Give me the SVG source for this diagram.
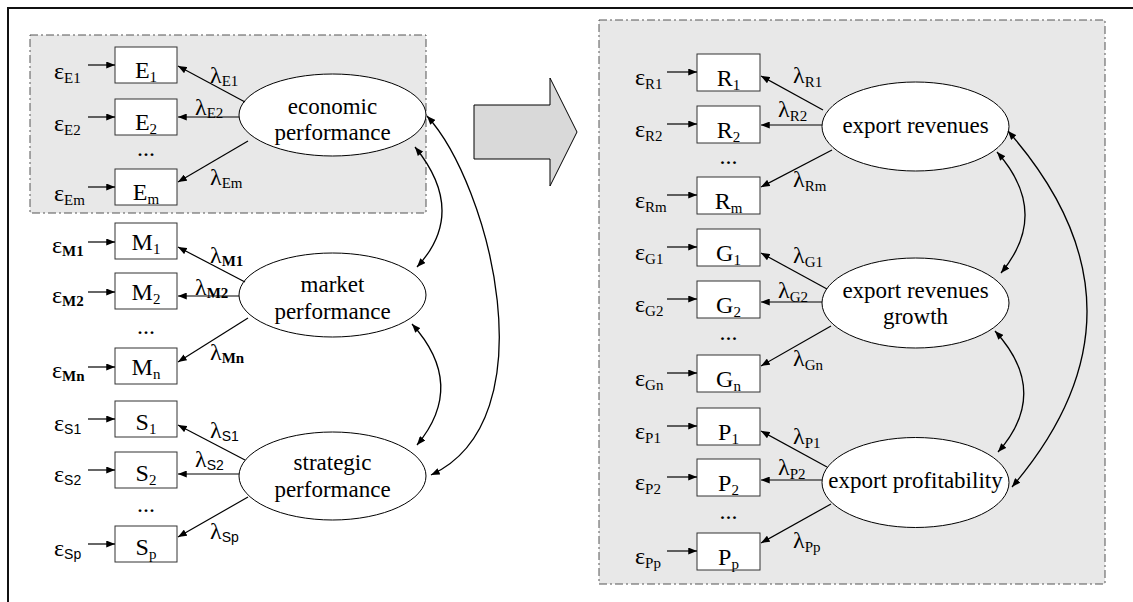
<svg xmlns="http://www.w3.org/2000/svg" width="1133" height="602" viewBox="0 0 1133 602" font-family="'Liberation Serif', 'Times New Roman', serif">
<defs>
<marker id="ah" viewBox="0 0 10 8" refX="10" refY="4" markerWidth="9" markerHeight="7" markerUnits="userSpaceOnUse" orient="auto-start-reverse">
<path d="M0,0 L10,4 L0,8 z" fill="#000"/>
</marker>
<style>
text{font-family:'Liberation Serif','Times New Roman',serif}
.t{font-size:24px;fill:#000}
.s{font-size:15px}
.sb{font-size:15px;font-weight:bold}
.ss{font-family:'Liberation Sans',Arial,sans-serif;font-size:14px}
.el{font-size:23px;fill:#000;text-anchor:middle}
.box{fill:#fff;stroke:#333;stroke-width:1}
.ell{fill:#fff;stroke:#000;stroke-width:1}
.ln{stroke:#000;stroke-width:1.2;fill:none;marker-end:url(#ah)}
.cv{stroke:#000;stroke-width:1.3;fill:none;marker-start:url(#ah);marker-end:url(#ah)}
.panel{fill:#e8e8e8;stroke:#555;stroke-width:1;stroke-dasharray:8 3 2 3}
.lab{text-anchor:middle}
</style>
</defs>
<rect width="1133" height="602" fill="#fff"/>
<path d="M8,602 L8,8 L1133,8" fill="none" stroke="#111" stroke-width="2"/>
<rect class="panel" x="30" y="35" width="396" height="178"/>
<rect class="panel" x="599" y="20" width="506" height="564"/>
<polygon points="474,105 550,105 550,78 577,132 550,186 550,159 474,159" fill="#d9d9d9" stroke="#000" stroke-width="1"/>

<g id="economic">
<rect class="box" x="115" y="47" width="62" height="36"/>
<rect class="box" x="115" y="99" width="62" height="36"/>
<rect class="box" x="115" y="169" width="62" height="36"/>
<text class="t lab" x="146" y="78">E<tspan class="s" dy="4">1</tspan></text>
<text class="t lab" x="146" y="130">E<tspan class="s" dy="4">2</tspan></text>
<text class="t lab" x="146" y="200">E<tspan class="s" dy="4">m</tspan></text>
<text class="t lab" x="146" y="156">...</text>
<text class="t" x="54" y="79">ε<tspan class="s" dy="4">E1</tspan></text>
<text class="t" x="54" y="131">ε<tspan class="s" dy="4">E2</tspan></text>
<text class="t" x="54" y="201">ε<tspan class="s" dy="4">Em</tspan></text>
<text class="t" x="210" y="83">λ<tspan class="s" dy="3">E1</tspan></text>
<text class="t" x="195" y="115">λ<tspan class="s" dy="3">E2</tspan></text>
<text class="t" x="210" y="185">λ<tspan class="s" dy="3">Em</tspan></text>
<ellipse class="ell" cx="332.5" cy="115" rx="93.5" ry="41"/>
<text class="el" x="332.5" y="114">economic</text>
<text class="el" x="332.5" y="140">performance</text>
</g>

<g id="market">
<rect class="box" x="115" y="223" width="62" height="36"/>
<rect class="box" x="115" y="273" width="62" height="36"/>
<rect class="box" x="115" y="348" width="62" height="36"/>
<text class="t lab" x="146" y="250">M<tspan class="s" dy="4">1</tspan></text>
<text class="t lab" x="146" y="300">M<tspan class="s" dy="4">2</tspan></text>
<text class="t lab" x="146" y="375">M<tspan class="s" dy="4">n</tspan></text>
<text class="t lab" x="146" y="334">...</text>
<text class="t" x="52" y="253">ε<tspan class="sb" dy="3">M1</tspan></text>
<text class="t" x="52" y="303">ε<tspan class="sb" dy="3">M2</tspan></text>
<text class="t" x="52" y="378">ε<tspan class="sb" dy="3">Mn</tspan></text>
<text class="t" x="210" y="263">λ<tspan class="sb" dy="3">M1</tspan></text>
<text class="t" x="195" y="295">λ<tspan class="sb" dy="3">M2</tspan></text>
<text class="t" x="210" y="360">λ<tspan class="sb" dy="3">Mn</tspan></text>
<ellipse class="ell" cx="332.5" cy="295" rx="93.5" ry="42"/>
<text class="el" x="332.5" y="292">market</text>
<text class="el" x="332.5" y="319">performance</text>
</g>

<g id="strategic">
<rect class="box" x="115" y="401" width="62" height="36"/>
<rect class="box" x="115" y="452" width="62" height="36"/>
<rect class="box" x="115" y="526" width="62" height="36"/>
<text class="t lab" x="146" y="430">S<tspan class="s" dy="4">1</tspan></text>
<text class="t lab" x="146" y="481">S<tspan class="s" dy="4">2</tspan></text>
<text class="t lab" x="146" y="555">S<tspan class="s" dy="4">p</tspan></text>
<text class="t lab" x="146" y="512">...</text>
<text class="t" x="54" y="431">ε<tspan class="ss" dy="3">S1</tspan></text>
<text class="t" x="54" y="482">ε<tspan class="ss" dy="3">S2</tspan></text>
<text class="t" x="54" y="556">ε<tspan class="ss" dy="3">Sp</tspan></text>
<text class="t" x="210" y="438">λ<tspan class="ss" dy="3">S1</tspan></text>
<text class="t" x="195" y="467">λ<tspan class="ss" dy="3">S2</tspan></text>
<text class="t" x="210" y="539">λ<tspan class="ss" dy="3">Sp</tspan></text>
<ellipse class="ell" cx="332.5" cy="476" rx="93.5" ry="44"/>
<text class="el" x="332.5" y="470">strategic</text>
<text class="el" x="332.5" y="497">performance</text>
</g>

<g id="revenues">
<rect class="box" x="697" y="54" width="63" height="37"/>
<rect class="box" x="697" y="106" width="63" height="37"/>
<rect class="box" x="697" y="177" width="63" height="37"/>
<text class="t lab" x="728.5" y="86">R<tspan class="s" dy="4">1</tspan></text>
<text class="t lab" x="728.5" y="138">R<tspan class="s" dy="4">2</tspan></text>
<text class="t lab" x="728.5" y="209">R<tspan class="s" dy="4">m</tspan></text>
<text class="t lab" x="728.5" y="164">...</text>
<text class="t" x="635" y="85">ε<tspan class="s" dy="4">R1</tspan></text>
<text class="t" x="635" y="137">ε<tspan class="s" dy="4">R2</tspan></text>
<text class="t" x="635" y="208">ε<tspan class="s" dy="4">Rm</tspan></text>
<text class="t" x="793" y="83">λ<tspan class="s" dy="4">R1</tspan></text>
<text class="t" x="778" y="117">λ<tspan class="s" dy="4">R2</tspan></text>
<text class="t" x="793" y="187">λ<tspan class="s" dy="4">Rm</tspan></text>
<ellipse class="ell" cx="915.5" cy="126.5" rx="93.5" ry="44.5"/>
<text class="el" x="915.5" y="133">export revenues</text>
</g>

<g id="growth">
<rect class="box" x="697" y="229" width="63" height="37"/>
<rect class="box" x="697" y="281" width="63" height="37"/>
<rect class="box" x="697" y="355" width="63" height="37"/>
<text class="t lab" x="728.5" y="261">G<tspan class="s" dy="4">1</tspan></text>
<text class="t lab" x="728.5" y="313">G<tspan class="s" dy="4">2</tspan></text>
<text class="t lab" x="728.5" y="387">G<tspan class="s" dy="4">n</tspan></text>
<text class="t lab" x="728.5" y="340">...</text>
<text class="t" x="635" y="260">ε<tspan class="s" dy="4">G1</tspan></text>
<text class="t" x="635" y="312">ε<tspan class="s" dy="4">G2</tspan></text>
<text class="t" x="635" y="386">ε<tspan class="s" dy="4">Gn</tspan></text>
<text class="t" x="793" y="263">λ<tspan class="s" dy="4">G1</tspan></text>
<text class="t" x="778" y="298">λ<tspan class="s" dy="4">G2</tspan></text>
<text class="t" x="793" y="366">λ<tspan class="s" dy="4">Gn</tspan></text>
<ellipse class="ell" cx="915.5" cy="303" rx="93.5" ry="45"/>
<text class="el" x="915.5" y="298">export revenues</text>
<text class="el" x="915.5" y="324">growth</text>
</g>

<g id="profitability">
<rect class="box" x="697" y="408" width="63" height="37"/>
<rect class="box" x="697" y="459" width="63" height="37"/>
<rect class="box" x="697" y="533" width="63" height="37"/>
<text class="t lab" x="728.5" y="440">P<tspan class="s" dy="4">1</tspan></text>
<text class="t lab" x="728.5" y="491">P<tspan class="s" dy="4">2</tspan></text>
<text class="t lab" x="728.5" y="565">P<tspan class="s" dy="4">p</tspan></text>
<text class="t lab" x="728.5" y="519">...</text>
<text class="t" x="635" y="439">ε<tspan class="s" dy="4">P1</tspan></text>
<text class="t" x="635" y="490">ε<tspan class="s" dy="4">P2</tspan></text>
<text class="t" x="635" y="564">ε<tspan class="s" dy="4">Pp</tspan></text>
<text class="t" x="793" y="444">λ<tspan class="s" dy="4">P1</tspan></text>
<text class="t" x="778" y="475">λ<tspan class="s" dy="4">P2</tspan></text>
<text class="t" x="793" y="548">λ<tspan class="s" dy="4">Pp</tspan></text>
<ellipse class="ell" cx="915.5" cy="482.5" rx="93.5" ry="45"/>
<text class="el" x="915.5" y="488">export profitability</text>
</g>

<g id="connectors">
<line class="ln" x1="88" y1="65" x2="115" y2="65"/>
<line class="ln" x1="88" y1="117" x2="115" y2="117"/>
<line class="ln" x1="88" y1="187" x2="115" y2="187"/>
<line class="ln" x1="88" y1="242" x2="115" y2="242"/>
<line class="ln" x1="88" y1="292" x2="115" y2="292"/>
<line class="ln" x1="88" y1="367" x2="115" y2="367"/>
<line class="ln" x1="88" y1="419" x2="115" y2="419"/>
<line class="ln" x1="88" y1="470" x2="115" y2="470"/>
<line class="ln" x1="88" y1="544" x2="115" y2="544"/>
<line class="ln" x1="245" y1="102" x2="178" y2="66"/>
<line class="ln" x1="239" y1="117" x2="178" y2="117"/>
<line class="ln" x1="248" y1="141" x2="178" y2="182"/>
<line class="ln" x1="245" y1="282" x2="178" y2="247"/>
<line class="ln" x1="239" y1="296" x2="178" y2="296"/>
<line class="ln" x1="248" y1="318" x2="178" y2="362"/>
<line class="ln" x1="245" y1="460" x2="178" y2="425"/>
<line class="ln" x1="239" y1="474" x2="178" y2="474"/>
<line class="ln" x1="248" y1="497" x2="178" y2="537"/>
<line class="ln" x1="667" y1="72" x2="697" y2="72"/>
<line class="ln" x1="667" y1="124" x2="697" y2="124"/>
<line class="ln" x1="667" y1="195" x2="697" y2="195"/>
<line class="ln" x1="667" y1="247" x2="697" y2="247"/>
<line class="ln" x1="667" y1="299" x2="697" y2="299"/>
<line class="ln" x1="667" y1="373" x2="697" y2="373"/>
<line class="ln" x1="667" y1="426" x2="697" y2="426"/>
<line class="ln" x1="667" y1="477" x2="697" y2="477"/>
<line class="ln" x1="667" y1="551" x2="697" y2="551"/>
<line class="ln" x1="823" y1="110" x2="761" y2="76"/>
<line class="ln" x1="822" y1="125" x2="761" y2="125"/>
<line class="ln" x1="832" y1="150" x2="761" y2="187"/>
<line class="ln" x1="827" y1="289" x2="761" y2="253"/>
<line class="ln" x1="822" y1="302" x2="761" y2="302"/>
<line class="ln" x1="831" y1="326" x2="761" y2="366"/>
<line class="ln" x1="827" y1="467" x2="761" y2="431"/>
<line class="ln" x1="822" y1="480" x2="761" y2="480"/>
<line class="ln" x1="831" y1="504" x2="761" y2="543"/>
<path class="cv" d="M415,147 Q468,212 417,267"/>
<path class="cv" d="M412,324 Q467,385 417,445"/>
<path class="cv" d="M427,116 C490,185 550,420 431,475"/>
<path class="cv" d="M997,152 Q1051,213 1001,273"/>
<path class="cv" d="M995,331 Q1051,392 998,452"/>
<path class="cv" d="M1008,131 Q1164,309 1012,487"/>
</g>
</svg>
